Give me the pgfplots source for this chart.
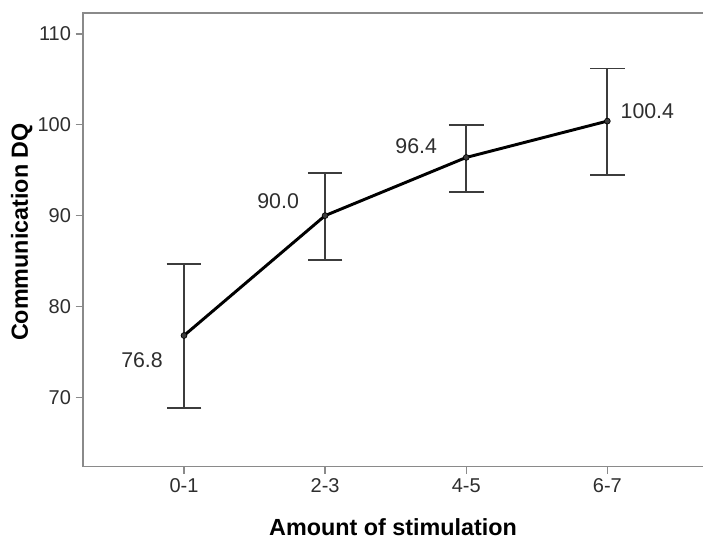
\documentclass[border=0pt]{standalone}
\usepackage{pgfplots}
\pgfplotsset{compat=1.18}
\usepackage{fontspec}
\setmainfont{Liberation Sans}
\definecolor{axgray}{HTML}{8A8A8A}
\definecolor{txt}{HTML}{2E2E2E}
\definecolor{bargray}{HTML}{3C3C3C}

\begin{document}
\begin{tikzpicture}
\begin{axis}[
    width=465pt, height=340pt,
    scale only axis,
    xmin=-0.716, xmax=3.678,
    ymin=62.4, ymax=112.3,
    axis line style={draw=none},
    xtick={0,1,2,3},
    xticklabels={0-1,2-3,4-5,6-7},
    xtick pos=bottom, ytick pos=left,
    ytick={70,80,90,100,110},
    tick align=outside,
    major tick length=5.5pt,
    tick style={axgray, line width=1pt},
    ticklabel style={font=\fontsize{15}{18}\selectfont, text=txt},
    /pgf/number format/assume math mode=true,
    xlabel={Amount of stimulation},
    ylabel={Communication DQ},
    xlabel style={font=\fontsize{17.5}{21}\selectfont\bfseries, text=black, yshift=-13pt},
    ylabel style={font=\fontsize{17.5}{21}\selectfont\bfseries, text=black, at={(ticklabel cs:0.517)}, yshift=-3pt},
    clip=false,
]
\draw[axgray, line width=1pt] (rel axis cs:1,1) -- (rel axis cs:0,1) -- (rel axis cs:0,0) -- (rel axis cs:1,0);
\addplot[black, line width=2.2pt, mark=*, mark size=2.2pt,
    mark options={fill=bargray, draw=black, line width=0.5pt},
    error bars/.cd, y dir=both, y explicit,
    error bar style={bargray, line width=1.3pt},
    error mark options={rotate=90, mark size=13pt, bargray, line width=1.3pt}]
coordinates {
    (0,76.8) +- (0,7.9) -= (0,8.0)
    (1,90.0) +- (0,4.7) -= (0,4.9)
    (2,96.4) +- (0,3.6) -= (0,3.8)
    (3,100.4) +- (0,5.8) -= (0,5.9)
};
\coordinate (bl) at (rel axis cs:0,0);
\coordinate (tr) at (rel axis cs:1,1);
\tikzset{lbl/.style={font=\fontsize{16}{19}\selectfont, text=txt}}
\node[lbl, xshift=-31.5pt, yshift=-18.75pt] at (axis cs:0,76.8) {76.8};
\node[lbl, xshift=-35.25pt, yshift=10.5pt] at (axis cs:1,90.0) {90.0};
\node[lbl, xshift=-37.5pt, yshift=8.25pt] at (axis cs:2,96.4) {96.4};
\node[lbl, xshift=30pt, yshift=7.5pt] at (axis cs:3,100.4) {100.4};
\end{axis}
\pgfresetboundingbox
\path[use as bounding box] ([xshift=-62.25pt, yshift=-54.75pt]bl) rectangle ([yshift=9.75pt]tr);
\end{tikzpicture}
\end{document}
